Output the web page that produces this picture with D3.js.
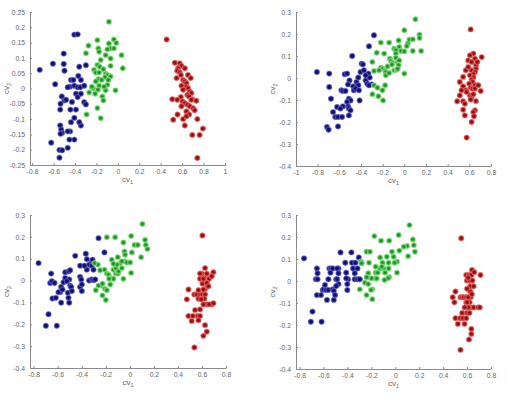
<!DOCTYPE html>
<html lang="en">
<head>
<meta charset="UTF-8">
<title>cv1 / cv2 scatter panels</title>
<script src="https://d3js.org/d3.v7.min.js"></script>
<style>
    body { margin: 0; background: #fff; }
    .tick text { font-family: "Liberation Sans", Arial, sans-serif; font-size: 6.8px; fill: #666; }
    .tick line, .domain { stroke: #8a8a8a; }
    .axis-label { font-family: "Liberation Sans", Arial, sans-serif; font-size: 8px; fill: #666; }
</style>
</head>
<body>
<svg id="chart" width="507" height="399"></svg>
<script>
// tick values
const xTicks1 = [-0.8, -0.6, -0.4, -0.2, 0, 0.2, 0.4, 0.6, 0.8, 1];
const yTicks1 = [-0.25, -0.2, -0.15, -0.1, -0.05, 0, 0.05, 0.1, 0.15, 0.2, 0.25];
const xTicks2 = [-1, -0.8, -0.6, -0.4, -0.2, 0, 0.2, 0.4, 0.6, 0.8];
const xTicks34 = [-0.8, -0.6, -0.4, -0.2, 0, 0.2, 0.4, 0.6, 0.8];
const yTicks234 = [-0.4, -0.3, -0.2, -0.1, 0, 0.1, 0.2, 0.3];

// panel 1 (top left)
const blue1 = [[-0.729,0.061],[-0.606,0.081],[-0.585,0.014],[-0.505,0.114],[-0.505,0.080],[-0.498,0.058],[-0.406,0.176],[-0.375,0.177],[-0.36,0.071],[-0.298,0.076],[-0.437,0.028],[-0.415,0.028],[-0.446,0.006],[-0.468,0.004],[-0.406,0.009],[-0.375,0.004],[-0.351,0.004],[-0.345,0.028],[-0.369,0.041],[-0.391,-0.017],[-0.375,-0.028],[-0.345,-0.017],[-0.314,0.009],[-0.523,-0.026],[-0.498,-0.039],[-0.483,-0.037],[-0.535,-0.05],[-0.428,-0.044],[-0.314,-0.045],[-0.298,-0.052],[-0.538,-0.069],[-0.443,-0.069],[-0.391,-0.069],[-0.406,-0.096],[-0.437,-0.110],[-0.345,-0.121],[-0.36,-0.110],[-0.538,-0.121],[-0.529,-0.134],[-0.52,-0.145],[-0.535,-0.148],[-0.446,-0.14],[-0.406,-0.167],[-0.452,-0.167],[-0.622,-0.177],[-0.545,-0.201],[-0.52,-0.202],[-0.468,-0.194],[-0.545,-0.226],[-0.468,-0.14]];
const green1 = [[-0.083,0.218],[-0.274,0.140],[-0.191,0.158],[-0.083,0.147],[-0.037,0.160],[-0.015,0.149],[-0.298,0.115],[-0.182,0.131],[-0.175,0.120],[-0.068,0.131],[-0.098,0.128],[-0.037,0.131],[0.034,0.109],[-0.16,0.093],[-0.114,0.109],[-0.068,0.098],[-0.191,0.077],[-0.169,0.071],[-0.222,0.061],[-0.135,0.063],[-0.068,0.074],[0.046,0.066],[-0.206,0.052],[-0.175,0.052],[-0.114,0.048],[-0.083,0.041],[-0.098,0.044],[-0.068,0.039],[-0.12,0.037],[-0.182,0.030],[-0.151,0.028],[-0.206,0.023],[-0.175,0.009],[-0.098,0.012],[-0.231,0.001],[-0.185,-0.004],[-0.114,-0.006],[-0.268,-0.013],[-0.022,-0.006],[-0.212,-0.017],[-0.145,-0.026],[-0.135,-0.039],[-0.191,-0.064],[-0.292,-0.085],[-0.16,-0.097],[-0.089,0.028],[-0.129,0.006],[-0.243,0.006]];
const red1 = [[0.455,0.160],[0.532,0.084],[0.578,0.082],[0.594,0.074],[0.563,0.066],[0.625,0.066],[0.554,0.058],[0.578,0.052],[0.588,0.044],[0.548,0.034],[0.609,0.028],[0.625,0.023],[0.64,0.017],[0.594,0.009],[0.64,0.006],[0.655,0.001],[0.671,-0.010],[0.609,-0.004],[0.686,-0.015],[0.649,-0.021],[0.588,-0.028],[0.665,-0.026],[0.508,-0.035],[0.554,-0.037],[0.695,-0.035],[0.603,-0.042],[0.625,-0.048],[0.649,-0.053],[0.671,-0.058],[0.702,-0.064],[0.64,-0.075],[0.717,-0.071],[0.557,-0.085],[0.665,-0.085],[0.517,-0.102],[0.609,-0.100],[0.742,-0.100],[0.625,-0.121],[0.794,-0.131],[0.695,-0.152],[0.763,-0.152],[0.742,-0.227],[0.64,-0.091],[0.686,-0.037],[0.732,-0.040],[0.594,-0.058],[0.655,0.044],[0.68,0.034]];

// panel 2 (top right)
const blue2 = [[-0.807,0.027],[-0.693,0.020],[-0.693,-0.041],[-0.677,-0.094],[-0.658,-0.155],[-0.637,-0.177],[-0.621,-0.132],[-0.612,-0.177],[-0.575,-0.177],[-0.581,-0.056],[-0.568,-0.059],[-0.55,0.017],[-0.528,0.020],[-0.506,-0.011],[-0.519,-0.029],[-0.512,-0.094],[-0.497,-0.102],[-0.528,-0.109],[-0.519,-0.129],[-0.512,-0.139],[-0.568,-0.129],[-0.59,-0.139],[-0.543,-0.059],[-0.481,0.100],[-0.472,-0.038],[-0.466,-0.056],[-0.441,-0.018],[-0.425,0.002],[-0.425,-0.033],[-0.404,0.027],[-0.394,0.065],[-0.382,0.062],[-0.373,0.035],[-0.357,-0.011],[-0.342,-0.026],[-0.326,0.144],[-0.332,0.020],[-0.32,0.002],[-0.301,-0.029],[-0.28,0.194],[-0.413,-0.102],[-0.714,-0.223],[-0.699,-0.235],[-0.612,-0.220],[-0.45,-0.048],[-0.357,0.012],[-0.326,-0.033],[-0.419,-0.056],[-0.512,-0.170],[-0.497,-0.147]];
const green2 = [[0.102,0.267],[0,0.217],[0.14,0.197],[0.14,0.182],[0.047,0.174],[-0.217,0.161],[-0.14,0.161],[-0.053,0.171],[0.031,0.156],[0.022,0.145],[-0.047,0.141],[-0.031,0.123],[0,0.121],[-0.255,0.115],[-0.186,0.111],[-0.093,0.133],[-0.078,0.126],[-0.078,0.111],[0.078,0.123],[0.155,0.123],[0.078,0.176],[-0.134,0.088],[-0.124,0.077],[-0.109,0.068],[-0.078,0.092],[-0.295,0.073],[-0.217,0.047],[-0.202,0.042],[-0.233,0.035],[-0.177,0.035],[-0.171,0.027],[-0.171,0.012],[-0.14,0.023],[-0.093,0.035],[-0.071,0.038],[-0.062,0.073],[-0.047,0.080],[-0.053,0.058],[-0.062,0.042],[0,0.020],[-0.28,-0.033],[-0.248,-0.044],[-0.202,-0.056],[-0.177,-0.033],[-0.295,-0.074],[-0.239,-0.083],[-0.196,-0.102],[-0.155,0.053],[-0.115,0.061],[-0.28,0.032]];
const red2 = [[0.612,0.221],[0.637,0.111],[0.606,0.103],[0.652,0.088],[0.714,0.095],[0.59,0.08],[0.621,0.073],[0.661,0.058],[0.661,0.042],[0.568,0.035],[0.621,0.035],[0.652,0.027],[0.637,0.017],[0.606,0.012],[0.637,0.002],[0.621,-0.008],[0.63,-0.018],[0.512,-0.018],[0.599,-0.026],[0.652,-0.033],[0.543,-0.038],[0.612,-0.044],[0.63,-0.048],[0.652,-0.048],[0.705,-0.059],[0.568,-0.056],[0.512,-0.079],[0.606,-0.079],[0.621,-0.086],[0.612,-0.098],[0.543,-0.106],[0.488,-0.106],[0.559,-0.117],[0.661,-0.105],[0.652,-0.147],[0.543,-0.144],[0.637,-0.155],[0.559,-0.17],[0.643,-0.174],[0.621,-0.2],[0.575,-0.271],[0.683,-0.033],[0.59,0.05],[0.674,0.073],[0.543,0.005],[0.575,-0.064],[0.637,-0.074],[0.528,-0.056]];

// panel 3 (bottom left)
const blue3 = [[-0.759,0.080],[-0.654,0.032],[-0.662,-0.011],[-0.648,-0.003],[-0.643,-0.082],[-0.615,-0.079],[-0.676,-0.154],[-0.698,-0.207],[-0.607,-0.207],[-0.579,-0.053],[-0.571,-0.029],[-0.551,-0.008],[-0.537,0.012],[-0.537,0.038],[-0.51,0.042],[-0.496,0.047],[-0.504,0.005],[-0.496,-0.023],[-0.488,-0.029],[-0.515,-0.056],[-0.51,-0.079],[-0.504,-0.101],[-0.571,-0.101],[-0.454,0.113],[-0.413,0.068],[-0.413,0.017],[-0.404,0.005],[-0.413,-0.029],[-0.399,-0.048],[-0.366,0.123],[-0.357,0.098],[-0.357,0.050],[-0.338,0.073],[-0.316,0.088],[-0.316,0.068],[-0.302,0.050],[-0.338,0],[-0.316,0.005],[-0.302,0.002],[-0.288,0.005],[-0.26,0.194],[-0.211,0.129],[-0.31,0.095],[-0.377,0.068],[-0.593,-0.053],[-0.56,-0.041],[-0.482,-0.048],[-0.399,-0.018],[-0.626,-0.011],[-0.524,-0.003]];
const green3 = [[0.105,0.259],[0.011,0.204],[0.127,0.186],[0.133,0.163],[0.147,0.144],[0.039,0.163],[0.066,0.163],[0.094,0.107],[-0.122,0.198],[-0.191,0.198],[-0.053,0.174],[0.017,0.129],[-0.044,0.133],[-0.044,0.088],[-0.1,0.107],[-0.08,0.080],[-0.066,0.088],[-0.025,0.083],[0.003,0.083],[-0.15,0.095],[-0.266,0.073],[-0.294,0.080],[-0.211,0.050],[-0.191,0.032],[-0.177,0.027],[-0.163,0.012],[-0.15,0.008],[-0.136,0.008],[-0.172,0.008],[-0.116,0.032],[-0.1,0.032],[-0.136,0.050],[-0.116,0.057],[-0.053,0.008],[0.011,0.035],[-0.238,-0.023],[-0.26,-0.023],[-0.205,-0.038],[-0.191,-0.044],[-0.283,-0.044],[-0.227,-0.068],[-0.199,-0.089],[-0.163,-0.018],[-0.227,-0.014],[-0.094,0.042],[-0.066,0.057],[-0.039,0.118],[-0.108,0.073],[-0.247,0.047],[-0.136,0.077]];
const red3 = [[0.604,0.206],[0.626,0.057],[0.598,0.032],[0.64,0.032],[0.584,0.032],[0.695,0.038],[0.62,0.012],[0.584,0.008],[0.612,0.008],[0.659,0.008],[0.64,-0.014],[0.604,-0.014],[0.626,-0.038],[0.488,-0.041],[0.537,-0.064],[0.557,-0.064],[0.584,-0.064],[0.604,-0.064],[0.626,-0.064],[0.474,-0.086],[0.571,-0.083],[0.604,-0.083],[0.62,-0.083],[0.593,-0.086],[0.681,-0.109],[0.64,-0.109],[0.612,-0.109],[0.543,-0.135],[0.584,-0.132],[0.488,-0.162],[0.524,-0.162],[0.565,-0.162],[0.584,-0.162],[0.515,-0.185],[0.571,-0.182],[0.626,-0.204],[0.64,-0.234],[0.612,-0.253],[0.537,-0.306],[0.64,-0.011],[0.66,-0.109],[0.695,-0.104],[0.571,-0.044],[0.612,-0.041],[0.654,-0.026],[0.681,0.020]];

// panel 4 (bottom right)
const blue4 = [[-0.763,0.103],[-0.655,0.057],[-0.664,0.008],[-0.65,0.008],[-0.655,-0.064],[-0.621,-0.064],[-0.692,-0.139],[-0.706,-0.185],[-0.616,-0.185],[-0.607,-0.041],[-0.599,-0.038],[-0.588,-0.018],[-0.559,0.008],[-0.551,0.057],[-0.537,0.057],[-0.542,0.038],[-0.523,0.057],[-0.579,-0.041],[-0.559,-0.041],[-0.523,-0.038],[-0.514,-0.044],[-0.494,0.008],[-0.486,0.008],[-0.475,-0.014],[-0.494,-0.023],[-0.514,-0.086],[-0.503,-0.064],[-0.458,0.130],[-0.418,0.083],[-0.41,0.038],[-0.395,0.008],[-0.401,-0.014],[-0.401,-0.041],[-0.367,0.130],[-0.362,0.083],[-0.353,0.057],[-0.333,0.083],[-0.316,0.057],[-0.305,0.107],[-0.282,0.083],[-0.339,0.008],[-0.316,0.008],[-0.297,0.008],[-0.571,-0.086],[-0.475,0.057],[-0.486,0.057],[-0.475,0.035],[-0.41,0.012],[-0.339,0.035],[-0.65,0.035]];
const green4 = [[0.119,0.254],[0.028,0.209],[0.147,0.189],[0.155,0.163],[0.164,0.133],[0.099,0.159],[0.071,0.156],[0.034,0.138],[0.107,0.113],[-0.051,0.183],[-0.175,0.204],[-0.119,0.183],[-0.24,0.133],[-0.212,0.133],[-0.288,0.088],[-0.22,0.083],[-0.127,0.107],[-0.107,0.083],[-0.071,0.110],[-0.056,0.083],[-0.014,0.110],[0.014,0.088],[-0.006,0.083],[-0.056,0.057],[-0.051,0.017],[-0.062,0.012],[-0.099,0.057],[-0.127,0.057],[-0.164,0.038],[-0.147,0.038],[-0.226,0.035],[-0.169,0.012],[-0.232,0.017],[-0.198,0.012],[-0.254,-0.008],[-0.226,-0.014],[-0.192,-0.038],[-0.203,-0.041],[-0.297,-0.038],[-0.24,-0.064],[-0.192,-0.083],[0.014,0.038],[-0.085,0.038],[-0.155,0.011],[-0.113,0.065],[-0.028,0.133],[-0.24,0.017],[-0.164,0.065],[-0.09,0.005],[-0.282,0.080]];
const red4 = [[0.551,0.194],[0.641,0.050],[0.593,0.027],[0.616,0.027],[0.636,0.027],[0.712,0.027],[0.599,0.002],[0.621,0.002],[0.644,0.002],[0.627,-0.024],[0.655,-0.024],[0.627,-0.048],[0.503,-0.048],[0.48,-0.074],[0.545,-0.074],[0.559,-0.074],[0.573,-0.074],[0.593,-0.074],[0.616,-0.074],[0.63,-0.074],[0.494,-0.097],[0.593,-0.097],[0.621,-0.097],[0.63,-0.120],[0.655,-0.120],[0.692,-0.120],[0.706,-0.120],[0.559,-0.145],[0.599,-0.145],[0.503,-0.169],[0.542,-0.169],[0.565,-0.169],[0.593,-0.169],[0.523,-0.195],[0.579,-0.195],[0.636,-0.218],[0.636,-0.241],[0.616,-0.266],[0.545,-0.313],[0.61,-0.074],[0.6,-0.097],[0.61,-0.12],[0.62,-0.145],[0.61,0.015],[0.6,-0.035],[0.64,-0.06],[0.58,-0.12],[0.66,0.04]];

const styles = [
    { fill: "#1f1f9c", ring: "#7878c4", star: "#0a0a40" },
    { fill: "#44c044", ring: "#a2e2a2", star: "#1c6e1c" },
    { fill: "#cc2626", ring: "#e48080", star: "#600a0a" }
];

const panels = [
    { series: [blue1, green1, red1], xDom: [-0.82, 1], yDom: [-0.25, 0.25], xt: xTicks1, yt: yTicks1, left: 30, right: 225, top: 12, bottom: 165 },
    { series: [blue2, green2, red2], xDom: [-1, 0.8], yDom: [-0.4, 0.3], xt: xTicks2, yt: yTicks234, left: 296, right: 491, top: 12, bottom: 166 },
    { series: [blue3, green3, red3], xDom: [-0.83, 0.8], yDom: [-0.4, 0.3], xt: xTicks34, yt: yTicks234, left: 30, right: 226, top: 215, bottom: 368 },
    { series: [blue4, green4, red4], xDom: [-0.83, 0.8], yDom: [-0.4, 0.3], xt: xTicks34, yt: yTicks234, left: 296, right: 491, top: 215, bottom: 369 }
];

const svg = d3.select("#chart");
const star = "M-1.6,0L1.6,0M0,-1.6L0,1.6M-1.1,-1.1L1.1,1.1M-1.1,1.1L1.1,-1.1";

panels.forEach(p => {
    const x = d3.scaleLinear().domain(p.xDom).range([p.left, p.right]);
    const y = d3.scaleLinear().domain(p.yDom).range([p.bottom, p.top]);

    svg.append("g")
        .attr("transform", `translate(0,${p.bottom})`)
        .call(d3.axisBottom(x).tickValues(p.xt).tickSizeInner(-2).tickSizeOuter(0).tickPadding(4).tickFormat(d => String(d)));

    svg.append("g")
        .attr("transform", `translate(${p.left},0)`)
        .call(d3.axisLeft(y).tickValues(p.yt).tickSizeInner(-2).tickSizeOuter(0).tickPadding(5).tickFormat(d => String(d)));

    p.series.forEach((pts, i) => {
        const s = styles[i];
        const m = svg.append("g").selectAll("g")
            .data(pts)
            .join("g")
            .attr("transform", d => `translate(${x(d[0])},${y(d[1])})`);
        m.append("circle")
            .attr("r", 2.7)
            .attr("fill", s.fill)
            .attr("stroke", s.ring)
            .attr("stroke-width", 0.6);
        m.append("path")
            .attr("d", star)
            .attr("stroke", s.star)
            .attr("stroke-width", 0.5)
            .attr("fill", "none");
    });

    // axis labels: cv1 below, cv2 rotated on the left
    const xl = svg.append("text")
        .attr("class", "axis-label")
        .attr("x", (p.left + p.right) / 2)
        .attr("y", p.bottom + 17)
        .attr("text-anchor", "middle");
    xl.append("tspan").text("cv");
    xl.append("tspan").attr("font-size", "5.5px").attr("dy", 2).text("1");

    const yl = svg.append("text")
        .attr("class", "axis-label")
        .attr("transform", `translate(${p.left - 21},${(p.top + p.bottom) / 2}) rotate(-90)`)
        .attr("text-anchor", "middle");
    yl.append("tspan").text("cv");
    yl.append("tspan").attr("font-size", "5.5px").attr("dy", 2).text("2");
});
</script>
</body>
</html>
